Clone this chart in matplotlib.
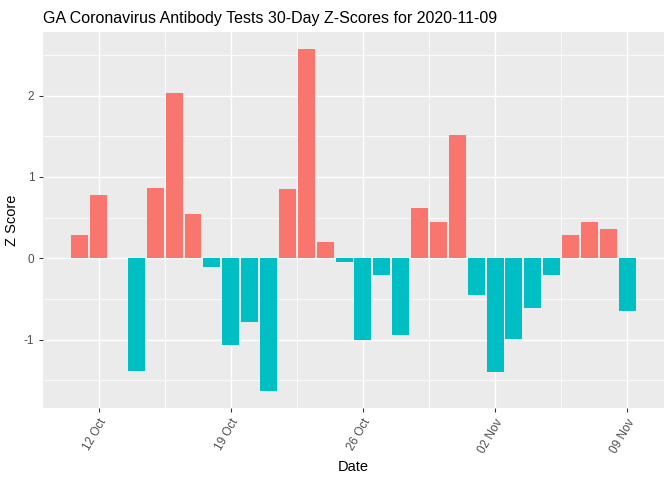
import pandas as pd
import numpy as np
import matplotlib.pyplot as plt
import matplotlib.dates as mdates

plt.rcParams['font.family'] = ['Liberation Sans', 'DejaVu Sans']

# Daily z-scores, 2020-10-11 .. 2020-11-09 (Oct 13 has no value)
dates = pd.date_range('2020-10-11', '2020-11-09', freq='D')
zscores = [0.29, 0.78, np.nan, -1.38, 0.87, 2.03, 0.54, -0.11, -1.06, -0.78,
           -1.63, 0.85, 2.57, 0.20, -0.05, -1.01, -0.21, -0.94, 0.62, 0.45,
           1.51, -0.45, -1.40, -0.99, -0.61, -0.20, 0.29, 0.45, 0.36, -0.65]
tick_dates = pd.to_datetime(['2020-10-12', '2020-10-19', '2020-10-26',
                             '2020-11-02', '2020-11-09'])

df = pd.DataFrame({'date': dates, 'z': zscores})
df['color'] = np.where(df['z'] > 0, '#F8766D', '#00BFC4')

fig = plt.figure(figsize=(7, 5), dpi=96)
ax = fig.add_axes([0.064, 0.15, 0.924, 0.783])
ax.set_facecolor('#EBEBEB')

x = mdates.date2num(df['date'])
ax.bar(x, df['z'].fillna(0), width=0.9, color=df['color'], zorder=3)

major = mdates.date2num(tick_dates)
ax.set_xticks(major)
ax.set_xticklabels([d.strftime('%d %b') for d in tick_dates], rotation=60,
                   ha='right', va='top', rotation_mode='anchor',
                   color='#4D4D4D', fontsize=8.8)
ax.set_xticks(major[:-1] + 3.5, minor=True)
ax.set_yticks([-1, 0, 1, 2])
ax.set_yticklabels(['-1', '0', '1', '2'], color='#4D4D4D', fontsize=8.8)
ax.set_yticks([-1.5, -0.5, 0.5, 1.5, 2.5], minor=True)

# ggplot-like expansion
lo = x.min() - 0.45
hi = x.max() + 0.45
pad = (hi - lo) * 0.05
ax.set_xlim(lo - pad, hi + pad)
ax.set_ylim(-1.84, 2.78)

ax.grid(which='major', color='white', linewidth=1.1, zorder=0)
ax.grid(which='minor', color='white', linewidth=0.55, zorder=0)
ax.tick_params(which='major', length=3, color='#333333', width=0.8)
ax.tick_params(which='minor', length=0)
for s in ax.spines.values():
    s.set_visible(False)

ax.set_xlabel('Date', fontsize=11)
ax.set_ylabel('Z Score', fontsize=11)
ax.set_title('GA Coronavirus Antibody Tests 30-Day Z-Scores for 2020-11-09',
             fontsize=12, loc='left', pad=7)

fig.savefig('out.png', dpi=96)
